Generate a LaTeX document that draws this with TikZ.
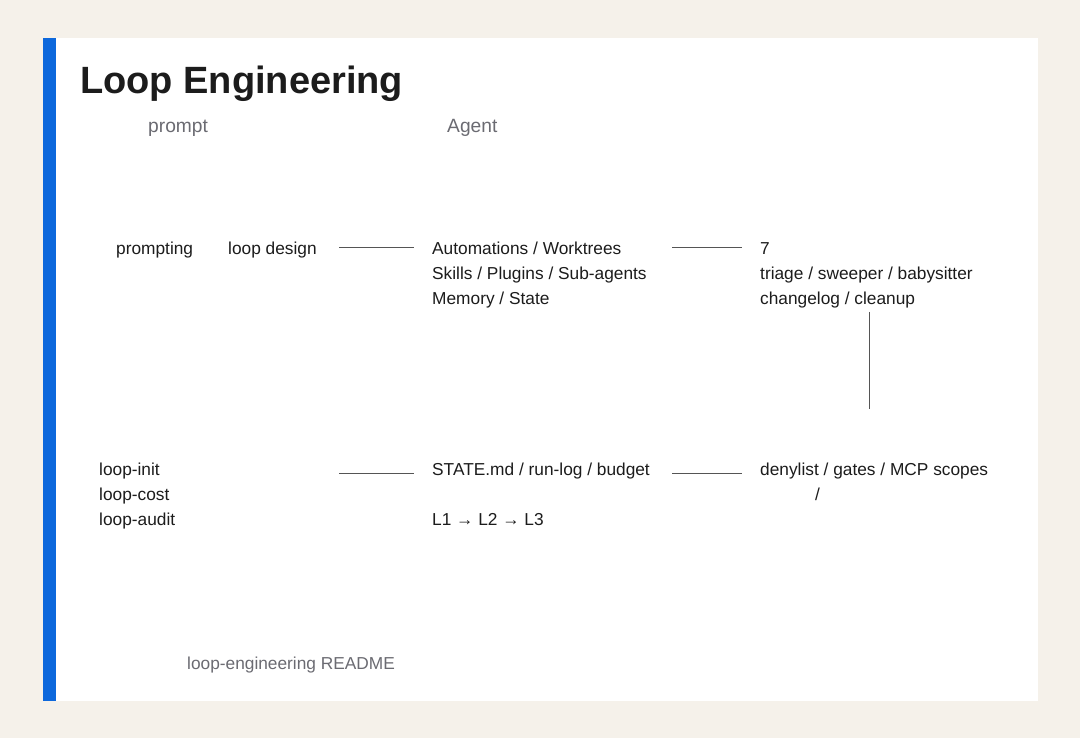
\documentclass[tikz,border=0pt]{standalone}
\usepackage{fontspec}
\setmainfont{Liberation Sans}
\definecolor{bgc}{HTML}{F5F1EA}
\definecolor{bluebar}{HTML}{0D68DC}
\definecolor{txt}{HTML}{1C1C1C}
\definecolor{muted}{HTML}{6B6B72}
\definecolor{linec}{HTML}{555555}
\begin{document}
\begin{tikzpicture}[x=1pt,y=-1pt,
  body/.style={anchor=base west,inner sep=0pt,text=txt,font=\fontsize{17.3}{20}\selectfont},
  sub/.style={anchor=base west,inner sep=0pt,text=muted,font=\fontsize{19.2}{22}\selectfont},
  foot/.style={anchor=base west,inner sep=0pt,text=muted,font=\fontsize{17.3}{20}\selectfont},
  conn/.style={draw=linec,line width=1pt}]
\useasboundingbox (0,0) rectangle (1080,738);
\fill[bgc] (0,0) rectangle (1080,738);
\fill[white] (43,38) rectangle (1038,701);
\fill[bluebar] (43,38) rectangle (56,701);
\node[anchor=base west,inner sep=0pt,text=txt,font=\fontsize{38}{44}\selectfont\bfseries] (title) at (80,94) {Loop Engineering};
\node[sub] (prompt) at (148,133) {prompt};
\node[sub] (agent) at (447,133) {Agent};
% row 1
\node[body] (prompting) at (116,255) {prompting};
\node[body] (loopdesign) at (228,255) {loop design};
\node[body] (auto) at (432,255) {Automations / Worktrees};
\node[body] (skills) at (432,280) {Skills / Plugins / Sub-agents};
\node[body] (memory) at (432,305) {Memory / State};
\node[body] (seven) at (760,255) {7};
\node[body] (triage) at (760,280) {triage / sweeper / babysitter};
\node[body] (changelog) at (760,305) {changelog / cleanup};
% row 2
\node[body] (init) at (99,475) {loop-init};
\node[body] (cost) at (99,500) {loop-cost};
\node[body] (audit) at (99,525) {loop-audit};
\node[body] (state) at (432,475) {STATE.md / run-log / budget};
\node[body] (levels) at (432,525) {L1 → L2 → L3};
\node[body] (deny) at (760,475) {denylist / gates / MCP scopes};
\node[body] (slash) at (815,500) {/};
\node[foot] (readme) at (187,669) {loop-engineering README};
% connectors
\coordinate (a1) at (339,248); \coordinate (a2) at (414,248);
\coordinate (b1) at (672,248); \coordinate (b2) at (742,248);
\coordinate (c1) at (339,473); \coordinate (c2) at (414,473);
\coordinate (d1) at (672,473); \coordinate (d2) at (742,473);
\coordinate (v1) at (869,312); \coordinate (v2) at (869,409);
\draw[conn] (a1) -- (a2);
\draw[conn] (b1) -- (b2);
\draw[conn] (c1) -- (c2);
\draw[conn] (d1) -- (d2);
\draw[conn] (v1) -- (v2);
\end{tikzpicture}
\end{document}
